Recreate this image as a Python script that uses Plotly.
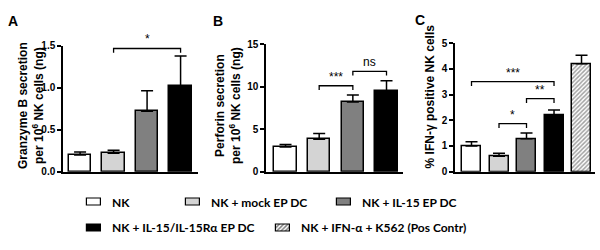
import plotly.graph_objects as go

# ---------------- data ----------------
groups = ["NK", "NK + mock EP DC", "NK + IL-15 EP DC",
          "NK + IL-15/IL-15Rα EP DC", "NK + IFN-α + K562 (Pos Contr)"]
colors = ["#ffffff", "#d4d4d4", "#808080", "#000000", "#ffffff"]

granzyme_mean = [0.20, 0.22, 0.72, 1.02]
granzyme_sem = [0.035, 0.035, 0.245, 0.36]

perforin_mean = [2.9, 3.8, 8.2, 9.5]
perforin_sem = [0.3, 0.7, 0.8, 1.2]

ifng_mean = [1.0, 0.6, 1.28, 2.2, 4.2]
ifng_sem = [0.16, 0.12, 0.22, 0.2, 0.33]

# significance brackets: (from index, to index, y level, label)
sig_A = [(1, 3, 1.47, "*")]
sig_B = [(1, 2, 10.1, "***"), (2, 3, 11.8, "ns")]
sig_C = [(0, 3, 3.5, "***"), (2, 3, 2.84, "**"), (1, 2, 1.87, "*")]

yticks_A = [0.0, 0.5, 1.0, 1.5]
yticks_B = [0, 5, 10, 15]
yticks_C = [0, 1, 2, 3, 4, 5]

FONT = "Liberation Sans"
LFONT = "Lato"

fig = go.Figure()

def add_panel(idx, means, sems, width):
    n = len(means)
    xs = list(range(n))
    fig.add_trace(go.Bar(
        x=xs, y=means, width=width,
        marker=dict(color=colors[:n], line=dict(color="black", width=1.5),
                    pattern=dict(shape=[""] * 4 + ["/"] * (n - 4), size=3,
                                 solidity=0.5, fgcolor="black", bgcolor="white",
                                 fillmode="overlay")),
        error_y=dict(type="data", symmetric=False, array=sems,
                     arrayminus=[0] * n, color="black", thickness=1.5, width=6),
        xaxis="x" + ("" if idx == 1 else str(idx)),
        yaxis="y" + ("" if idx == 1 else str(idx)),
        showlegend=False, hoverinfo="skip"))

add_panel(1, granzyme_mean, granzyme_sem, 0.67)
add_panel(2, perforin_mean, perforin_sem, 0.67)
add_panel(3, ifng_mean, ifng_sem, 0.69)

shapes = []
annotations = []

def add_sig(idx, sigs, tick):
    xr = "x" + ("" if idx == 1 else str(idx))
    yr = "y" + ("" if idx == 1 else str(idx))
    for a, b, y, lab in sigs:
        shapes.append(dict(type="path", xref=xr, yref=yr,
                           path=f"M {a},{y - tick} L {a},{y} L {b},{y} L {b},{y - tick}",
                           line=dict(color="black", width=1.3)))
        annotations.append(dict(x=(a + b) / 2, y=y, xref=xr, yref=yr, text=lab,
                                showarrow=False, xanchor="center", yanchor="bottom",
                                yshift=0,
                                font=dict(family=FONT, size=12, color="black")))

add_sig(1, sig_A, 0.05)
add_sig(2, sig_B, 0.5)
add_sig(3, sig_C, 0.17)

# panel letters
for t, x, y in [("A", 13, 16), ("B", 218, 16), ("C", 420, 15)]:
    annotations.append(dict(x=x / 600, y=1 - y / 250, xref="paper", yref="paper",
                            text=f"<b>{t}</b>", showarrow=False,
                            xanchor="center", yanchor="middle",
                            font=dict(family=FONT, size=14, color="black")))

# y axis titles
for txt, x, y in [("<b>Granzyme B secretion<br>per 10<sup>6</sup> NK cells (ng)</b>", 31, 105),
                  ("<b>Perforin secretion<br>per 10<sup>6</sup> NK cells (ng)</b>", 228, 105),
                  ("<b>% IFN-γ positive NK cells</b>", 430, 95)]:
    annotations.append(dict(x=x / 600, y=1 - y / 250, xref="paper", yref="paper",
                            text=txt, textangle=-90, showarrow=False,
                            xanchor="center", yanchor="middle",
                            font=dict(family=FONT, size=12, color="black")))

# legend (drawn in its own hidden axis, pixel-like units)
legend_pos = [(87, 206), (186, 206), (337, 206), (87, 233), (276, 233)]
for i, (g, (lx, ly)) in enumerate(zip(groups, legend_pos)):
    fig.add_trace(go.Bar(
        y=[ly], x=[14], base=[lx], orientation="h", width=7,
        marker=dict(color=colors[i], line=dict(color="black", width=1.2),
                    pattern=dict(shape="/" if i == 4 else "", size=3, solidity=0.5,
                                 fgcolor="black", bgcolor="white", fillmode="overlay")),
        xaxis="x4", yaxis="y4", showlegend=False, hoverinfo="skip"))
    annotations.append(dict(x=lx + 23, y=ly, xref="x4", yref="y4", text=f"<b>{g}</b>",
                            xanchor="left", yanchor="middle", showarrow=False,
                            font=dict(family=LFONT, size=12, color="black")))

axis_common = dict(showgrid=False, zeroline=False, showline=True, linecolor="black",
                   linewidth=1.5)
yaxis_common = dict(axis_common, ticks="outside", ticklen=4, tickwidth=1.5,
                    tickcolor="black",
                    tickfont=dict(family=FONT, size=10, color="black", weight="bold"))
xaxis_common = dict(axis_common, showticklabels=False, ticks="")

fig.update_layout(
    width=600, height=250, margin=dict(l=0, r=0, t=0, b=0),
    paper_bgcolor="white", plot_bgcolor="white",
    barmode="overlay", bargap=0, showlegend=False,
    xaxis=dict(xaxis_common, domain=[63 / 600, 198 / 600], range=[-0.51, 3.52], anchor="y"),
    yaxis=dict(yaxis_common, domain=[76 / 250, 208 / 250], range=[0, 1.5],
               tickvals=yticks_A, ticktext=[f"{v:.1f}" for v in yticks_A], anchor="x"),
    xaxis2=dict(xaxis_common, domain=[266 / 600, 403 / 600], range=[-0.58, 3.49], anchor="y2"),
    yaxis2=dict(yaxis_common, domain=[76 / 250, 210 / 250], range=[0, 15],
                tickvals=yticks_B, anchor="x2"),
    xaxis3=dict(xaxis_common, domain=[455 / 600, 595 / 600], range=[-0.6, 4.49], anchor="y3"),
    yaxis3=dict(yaxis_common, domain=[76 / 250, 211 / 250], range=[0, 5],
                tickvals=yticks_C, anchor="x3"),
    xaxis4=dict(domain=[0, 1], range=[0, 600], visible=False, anchor="y4"),
    yaxis4=dict(domain=[0, 75 / 250], range=[250, 175], visible=False, anchor="x4"),
    shapes=shapes, annotations=annotations,
)

fig.write_html("out.html", config={"displayModeBar": False},
               post_script="document.body.style.margin='0';document.body.style.overflow='hidden';")
